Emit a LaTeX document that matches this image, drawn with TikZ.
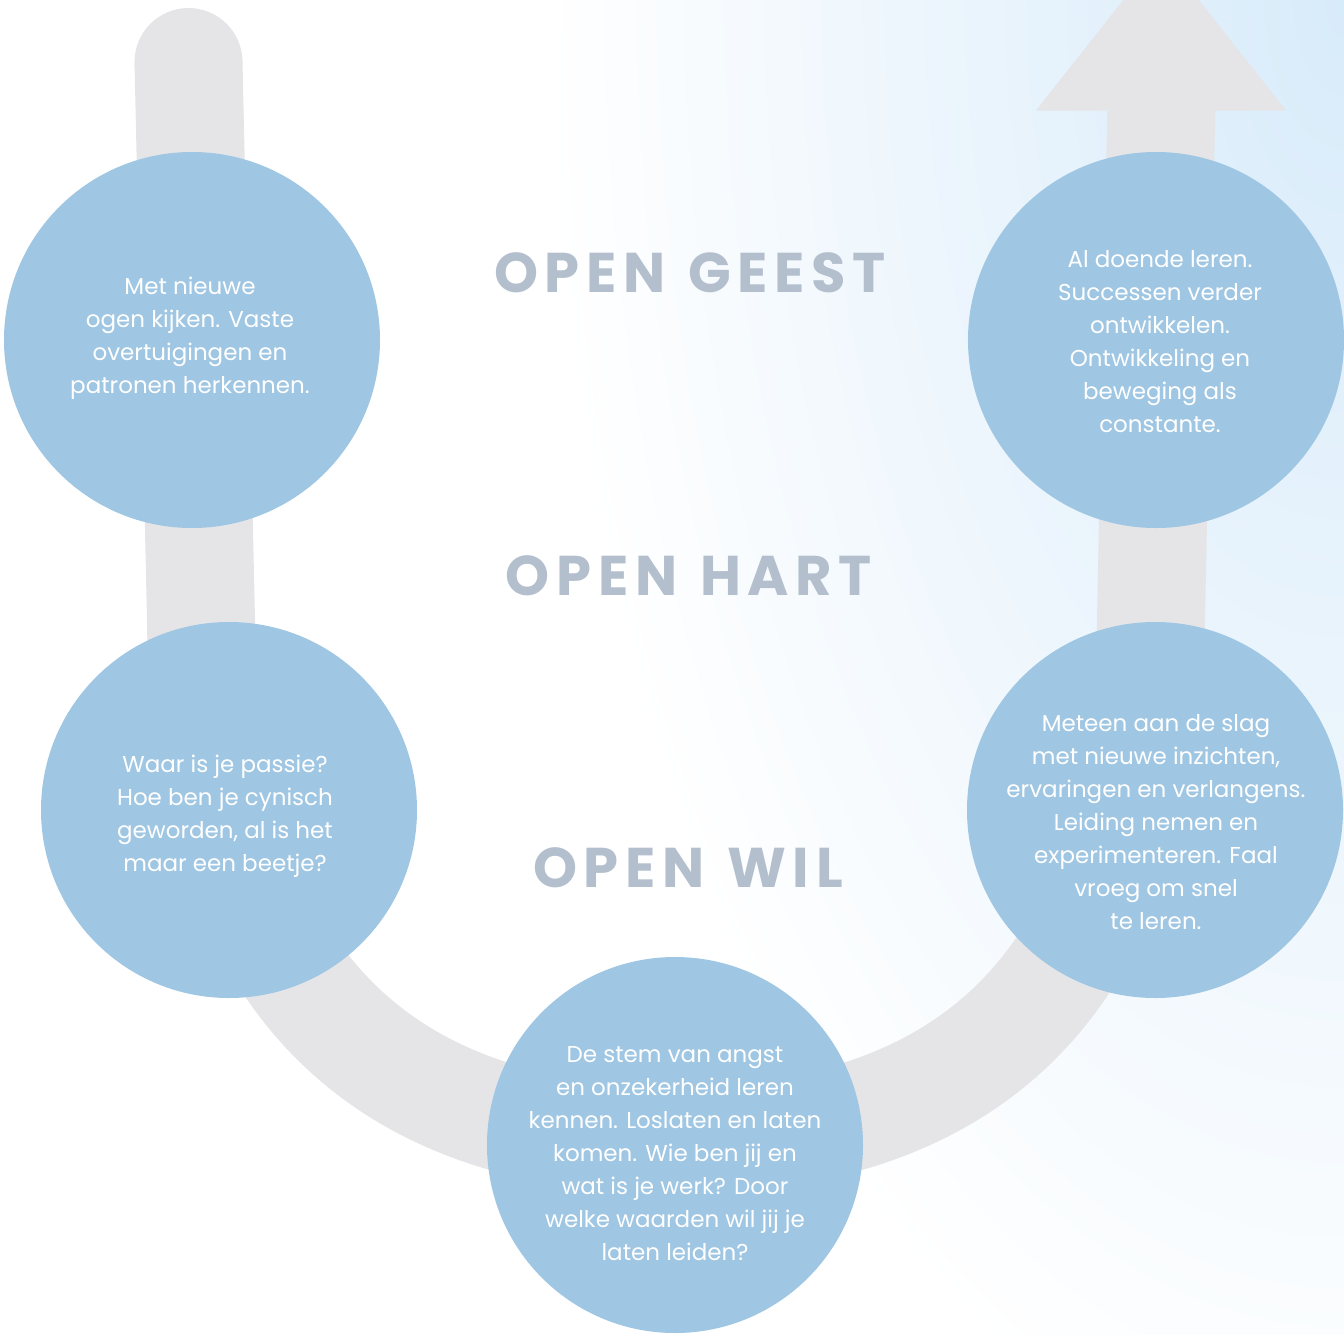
\documentclass[tikz,border=0pt]{standalone}
\usepackage{fontspec}
\setmainfont{Poppins}
\newfontfamily\headfont[LetterSpace=12]{Poppins}

\definecolor{bubbleblue}{HTML}{9FC6E2}
\definecolor{trackgray}{HTML}{E5E5E7}
\definecolor{headgray}{HTML}{B4BFCD}
\definecolor{skyblue}{HTML}{D8EBFA}

\begin{document}
\begin{tikzpicture}[x=1pt, y=-1pt,
	bubble/.style={circle, fill=bubbleblue, minimum size=376pt, inner sep=0pt},
	bubbletext/.style={text=white, align=center, inner sep=0pt, font=\fontsize{23}{33}\selectfont},
	heading/.style={text=headgray, font=\headfont\bfseries\fontsize{56}{56}\selectfont}]
		\useasboundingbox (0,0) rectangle (1344,1334);
		\clip (0,0) rectangle (1344,1334);
		\shade[inner color=skyblue, outer color=white] (1344,0) ellipse (800 and 1500);

		\draw[trackgray, line width=108] (188.5,62) -- (201,620)
			.. controls (205,990) and (390,1140) .. (676,1140)
			.. controls (962,1140) and (1147,990) .. (1151,620) -- (1161.5,100);
		\fill[trackgray] (188.5,62) circle (54);
		\fill[trackgray] (1036,110.5) -- (1286,110.5) -- (1161,-48) -- cycle;

		\node[bubble] (geest) at (192,340) {};
		\node[bubble] (doen)  at (1156,340) {};
		\node[bubble] (hart)  at (229,810) {};
		\node[bubble] (slag)  at (1155,810) {};
		\node[bubble] (wil)   at (675,1145) {};

		\node[bubbletext] (geesttext) at (190,338) {Met nieuwe\\ogen kijken. Vaste\\overtuigingen en\\patronen herkennen.};
		\node[bubbletext] (doentext)  at (1160,341.5) {Al doende leren.\\Successen verder\\ontwikkelen.\\Ontwikkeling en\\beweging als\\constante.};
		\node[bubbletext] (harttext)  at (225,816.5) {Waar is je passie?\\Hoe ben je cynisch\\geworden, al is het\\maar een beetje?};
		\node[bubbletext] (slagtext)  at (1156,822) {Meteen aan de slag\\met nieuwe inzichten,\\ervaringen en verlangens.\\Leiding nemen en\\experimenteren. Faal\\vroeg om snel\\te leren.};
		\node[bubbletext] (wiltext)   at (675,1154) {De stem van angst\\en onzekerheid leren\\kennen. Loslaten en laten\\komen. Wie ben jij en\\wat is je werk? Door\\welke waarden wil jij je\\laten leiden?};

		\node[heading] (titlegeest) at (690,273) {OPEN\hspace{4pt} GEEST};
		\node[heading] (titlehart)  at (689,576) {OPEN\hspace{4pt} HART};
		\node[heading] (titlewil)   at (688,868) {OPEN\hspace{4pt} WIL};
	\end{tikzpicture}
\end{document}
